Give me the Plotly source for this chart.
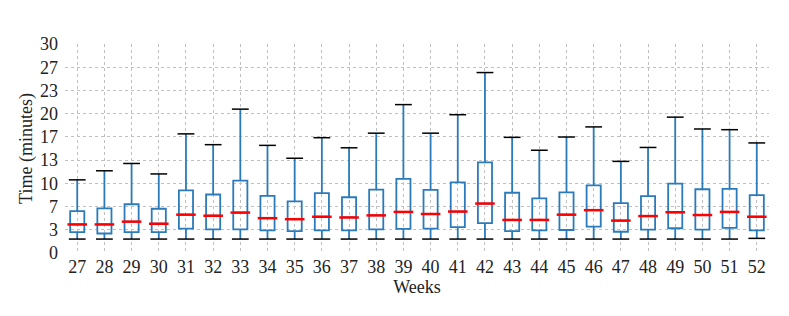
import plotly.graph_objects as go

weeks = list(range(27, 53))
q1 = [3.0, 2.8, 3.0, 3.0, 3.5, 3.4, 3.4, 3.25, 3.15, 3.25, 3.25, 3.4, 3.45, 3.5, 3.7, 4.3,
      3.15, 3.25, 3.3, 3.8, 3.05, 3.35, 3.55, 3.35, 3.6, 3.25]
median = [4.1, 4.1, 4.5, 4.2, 5.5, 5.35, 5.8, 5.0, 4.85, 5.2, 5.1, 5.4, 5.9, 5.6, 5.95, 7.1,
          4.75, 4.75, 5.5, 6.15, 4.65, 5.3, 5.85, 5.45, 5.9, 5.2]
q3 = [6.0, 6.4, 7.0, 6.35, 9.0, 8.4, 10.4, 8.2, 7.4, 8.6, 8.0, 9.1, 10.65, 9.05, 10.15, 13.0,
      8.65, 7.85, 8.7, 9.7, 7.15, 8.15, 9.95, 9.15, 9.2, 8.3]
low = [2.0] * 25 + [2.1]
high = [10.5, 11.8, 12.85, 11.35, 17.1, 15.55, 20.65, 15.45, 13.6, 16.55, 15.1, 17.2, 21.3,
        17.2, 19.85, 25.9, 16.6, 14.75, 16.65, 18.1, 13.15, 15.15, 19.5, 17.8, 17.7, 15.8]
ytickvals = [0, 10/3, 20/3, 10, 40/3, 50/3, 20, 70/3, 80/3, 30]
yticktext = ["0", "3", "7", "10", "13", "17", "20", "23", "27", "30"]

BLUE = "#2b7bba"
fig = go.Figure()
for i, w in enumerate(weeks):
    fig.add_trace(go.Box(
        x=[w], q1=[q1[i]], median=[median[i]], q3=[q3[i]],
        lowerfence=[low[i]], upperfence=[high[i]],
        width=0.52, whiskerwidth=0,
        line=dict(color=BLUE, width=1.8),
        fillcolor="rgba(0,0,0,0)",
        boxpoints=False, showlegend=False, hoverinfo="skip",
    ))

# whisker caps
fig.add_trace(go.Scatter(
    x=weeks + weeks, y=low + high, mode="markers",
    marker=dict(symbol="line-ew", size=12, line=dict(color="black", width=1.5)),
    showlegend=False, hoverinfo="skip"))
# medians
fig.add_trace(go.Scatter(
    x=weeks, y=median, mode="markers",
    marker=dict(symbol="line-ew", size=14, line=dict(color="red", width=2.5)),
    showlegend=False, hoverinfo="skip"))

font = dict(family="'Liberation Serif', 'Times New Roman', serif", size=18, color="#222")
fig.update_layout(
    width=781, height=308,
    margin=dict(l=57, r=20, t=36, b=63),
    paper_bgcolor="white", plot_bgcolor="white",
    font=font,
    xaxis=dict(
        range=[26.55, 52.45], tickmode="array", tickvals=weeks,
        ticktext=[str(w) for w in weeks],
        showgrid=True, gridcolor="#c0c0c0", griddash="dot", gridwidth=0.8,
        zeroline=False, showline=False, ticks="",
        tickfont=font, ticklabelstandoff=1,
        title=dict(text="Weeks", standoff=0, font=font),
    ),
    yaxis=dict(
        range=[0, 30], tickmode="array", tickvals=ytickvals, ticktext=yticktext,
        showgrid=True, gridcolor="#c0c0c0", griddash="dot", gridwidth=0.8,
        zeroline=False, showline=False, ticks="",
        tickfont=font, ticklabelstandoff=6,
        title=dict(text="Time (minutes)", standoff=2, font=font),
    ),
)
fig.write_html("out.html")
